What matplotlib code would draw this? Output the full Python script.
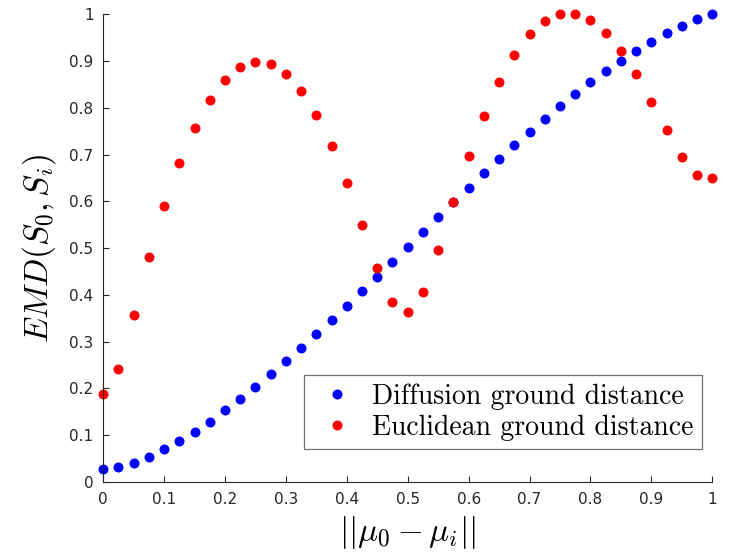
import numpy as np
import matplotlib.pyplot as plt

plt.rcParams['mathtext.fontset'] = 'cm'

# distance between the two means, 0 to 1 in steps of 0.025
dist = np.linspace(0, 1, 41)

emd_diffusion = [0.027, 0.032, 0.041, 0.054, 0.070, 0.088, 0.108, 0.129, 0.153, 0.178,
                 0.204, 0.230, 0.258, 0.287, 0.316, 0.346, 0.377, 0.408, 0.439, 0.471,
                 0.503, 0.535, 0.567, 0.598, 0.629, 0.660, 0.690, 0.720, 0.749, 0.777,
                 0.804, 0.830, 0.855, 0.879, 0.901, 0.922, 0.941, 0.959, 0.975, 0.989,
                 1.000]

emd_euclid = [0.188, 0.242, 0.358, 0.481, 0.590, 0.682, 0.758, 0.817, 0.860, 0.887,
              0.898, 0.893, 0.872, 0.835, 0.784, 0.718, 0.639, 0.549, 0.457, 0.384,
              0.363, 0.407, 0.496, 0.599, 0.696, 0.782, 0.855, 0.913, 0.957, 0.986,
              1.000, 1.000, 0.987, 0.960, 0.921, 0.872, 0.813, 0.752, 0.694, 0.656,
              0.651]

ticks = np.arange(0, 11) / 10
tick_labels = ['0', '0.1', '0.2', '0.3', '0.4', '0.5', '0.6', '0.7', '0.8', '0.9', '1']

fig = plt.figure(figsize=(7.32, 5.55), dpi=100)
ax = fig.add_axes([0.141, 0.1315, 0.832, 0.8427])

ax.plot(dist, emd_diffusion, 'o', color='#0000ff', markersize=7.2, markeredgewidth=0,
        label='Diffusion ground distance', clip_on=False)
ax.plot(dist, emd_euclid, 'o', color='#ff0000', markersize=7.2, markeredgewidth=0,
        label='Euclidean ground distance', clip_on=False)

ax.set_xlim(0, 1)
ax.set_ylim(0, 1)
ax.set_xticks(ticks)
ax.set_xticklabels(tick_labels)
ax.set_yticks(ticks)
ax.set_yticklabels(tick_labels)

axis_color = '#262626'
for side in ['top', 'right']:
    ax.spines[side].set_visible(False)
for side in ['left', 'bottom']:
    ax.spines[side].set_color(axis_color)
    ax.spines[side].set_linewidth(0.8)
ax.tick_params(direction='in', length=4, width=0.8, colors=axis_color,
               labelsize=11, pad=7)

ax.set_xlabel(r'$||\mu_0-\mu_i||$', fontsize=24, color='black', labelpad=5)
ax.set_ylabel(r'$EMD(S_0,S_i)$', fontsize=24, color='black', labelpad=8)

leg = ax.legend(loc='lower right', bbox_to_anchor=(0.9826, 0.0706), borderaxespad=0,
                prop={'family': 'cmr10', 'size': 20}, fancybox=False,
                handletextpad=0.4, borderpad=0.3, labelspacing=0.15,
                handlelength=1.75)
leg.get_frame().set_edgecolor('#707070')
leg.get_frame().set_linewidth(0.9)
leg.get_frame().set_alpha(1)

fig.savefig('out.png', dpi=100)
